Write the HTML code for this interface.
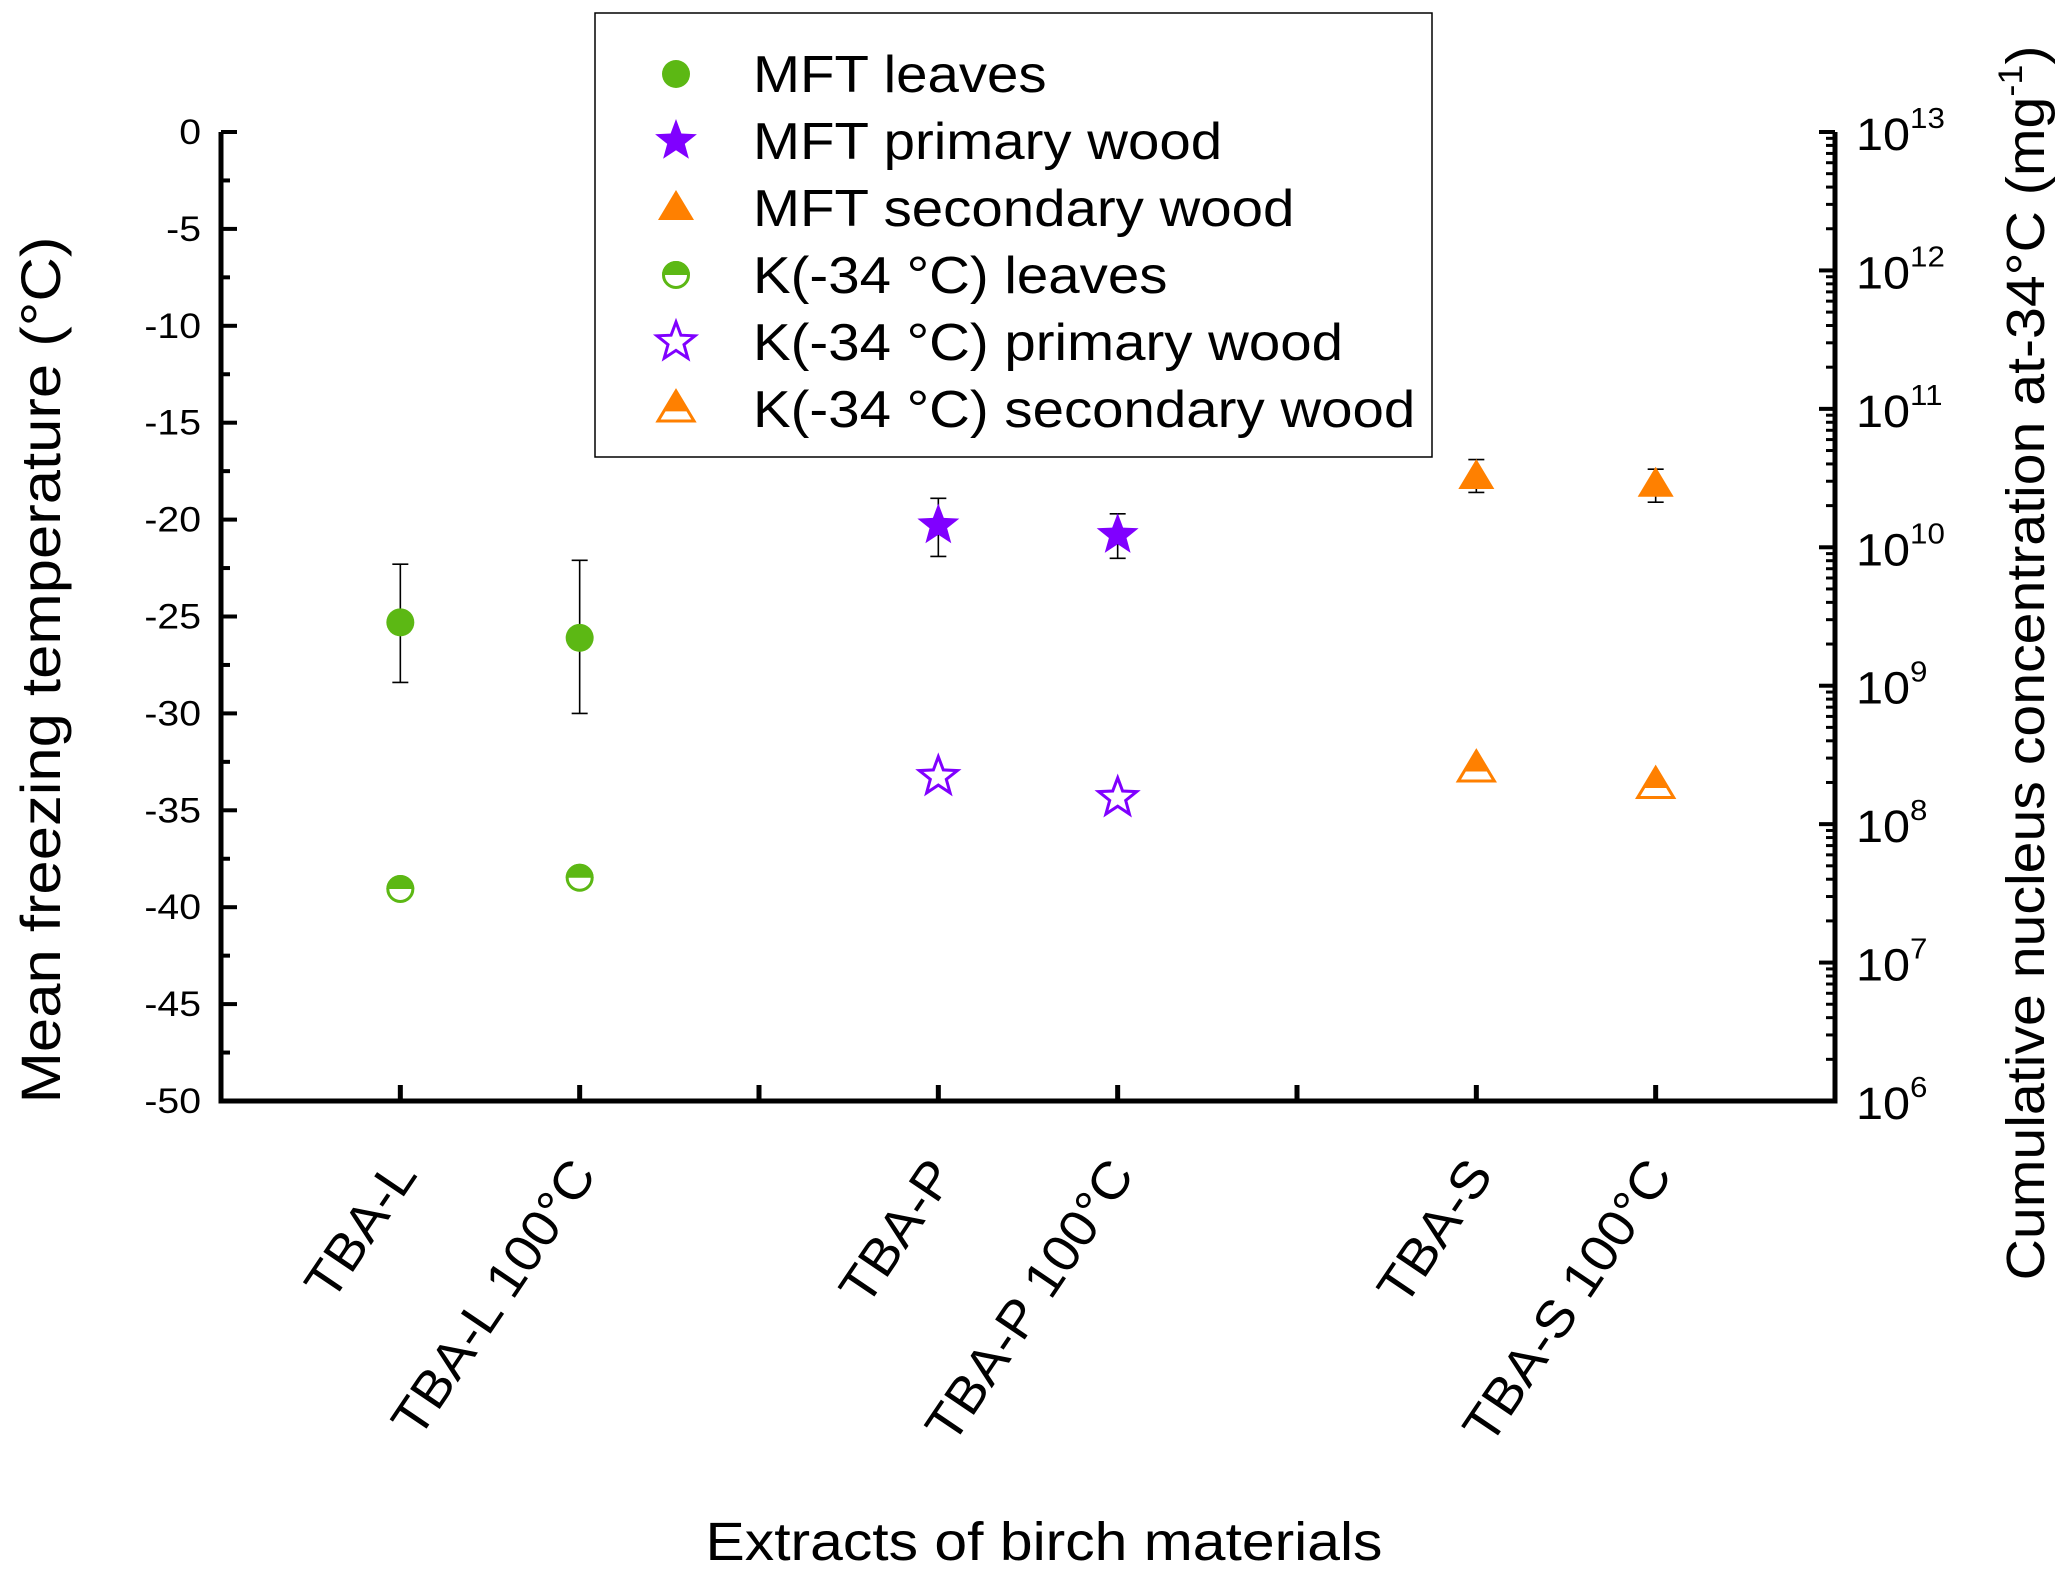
<!DOCTYPE html>
<html><head><meta charset="utf-8"><style>
html,body{margin:0;padding:0;background:#fff;}
svg{display:block;font-family:"Liberation Sans",Arial,sans-serif;}
</style></head><body>
<svg id="chart" width="2067" height="1577" viewBox="0 0 2067 1577" xmlns="http://www.w3.org/2000/svg"></svg>
<script>
const categories = ["TBA-L","TBA-L 100°C","TBA-P","TBA-P 100°C","TBA-S","TBA-S 100°C"];
const catPos = [1,2,4,5,7,8];
const groups = ["leaves","leaves","primary","primary","secondary","secondary"];
const mftValues = [-25.3,-26.1,-20.3,-20.8,-17.8,-18.2];
const mftErrHigh = [-22.3,-22.1,-18.9,-19.7,-16.9,-17.4];
const mftErrLow = [-28.4,-30.0,-21.9,-22.0,-18.6,-19.1];
const kValues = [3.4e7,4.1e7,2.2e8,1.55e8,2.5e8,1.9e8];
const leftTicks = [0,-5,-10,-15,-20,-25,-30,-35,-40,-45,-50];
const rightExps = [6,7,8,9,10,11,12,13];

const L=221,R=1835,T=132,B=1101;
const svg=document.getElementById('chart');
const NS='http://www.w3.org/2000/svg';
function xS(k){return L+(R-L)*k/9;}
function yS(v){return T+(B-T)*(0-v)/50;}
function yLog(v){return B-(B-T)*(Math.log10(v)-6)/7;}
function mk(tag,attrs,parent){const e=document.createElementNS(NS,tag);for(const k in attrs)e.setAttribute(k,attrs[k]);(parent||svg).appendChild(e);return e;}
const colors={leaves:'#5cb814',primary:'#8000ff',secondary:'#ff8000'};

let ax=mk('path',{d:`M${L},${T} L${L},${B} L${R},${B} L${R},${T}`,fill:'none',stroke:'#000','stroke-width':5});


for(let v=0;v>=-50;v-=2.5){
  const major=(v%5===0);
  const t=mk('line',{x1:L,x2:L+(major?16:9),y1:yS(v),y2:yS(v),stroke:'#000','stroke-width':4});
  
  
}
leftTicks.forEach(v=>{
  const t=mk('text',{x:0,y:0,'text-anchor':'end','font-size':35,transform:`translate(201,${yS(v)+12}) scale(1.12,1)`});
  t.textContent=String(v);
  
  
});
for(let e=6;e<=13;e++){
  const t=mk('line',{x1:R,x2:R-16,y1:yLog(Math.pow(10,e)),y2:yLog(Math.pow(10,e)),stroke:'#000','stroke-width':4});
  
  
  if(e<13)for(let m=2;m<=9;m++){
    const mt=mk('line',{x1:R,x2:R-9,y1:yLog(m*Math.pow(10,e)),y2:yLog(m*Math.pow(10,e)),stroke:'#000','stroke-width':3});
    
    
  }
}
rightExps.forEach(e=>{
  const t=mk('text',{x:0,y:0,'font-size':45,transform:`translate(1856,${yLog(Math.pow(10,e))+18}) scale(1.08,1)`});
  t.textContent='10';
  const s=mk('tspan',{dy:-22,'font-size':29},t);
  s.textContent=String(e);
  
  
});
for(let k=1;k<=8;k++){
  const t=mk('line',{x1:xS(k),x2:xS(k),y1:B,y2:B-16,stroke:'#000','stroke-width':5});
  
  
}
categories.forEach((c,i)=>{
  const x=xS(catPos[i])+18,y=1175;
  const t=mk('text',{x:0,y:0,'text-anchor':'end','font-size':52,transform:`translate(${x},${y}) rotate(-56) scale(1.05,1)`});
  t.textContent=c;
  
  
});
let tt=mk('text',{x:0,y:0,'text-anchor':'middle','font-size':56,transform:'translate(60,670) rotate(-90) scale(1.1,1)'});
tt.textContent='Mean freezing temperature  (°C)';


tt=mk('text',{x:0,y:0,'text-anchor':'middle','font-size':54,transform:'translate(2044,663) rotate(-90) scale(1.06,1)'});
tt.textContent='Cumulative nucleus concentration at-34°C (mg';
const sup=mk('tspan',{dy:-22,'font-size':34},tt);sup.textContent='-1';
const cl=mk('tspan',{dy:22},tt);cl.textContent=')';


tt=mk('text',{x:0,y:0,'text-anchor':'middle','font-size':54,transform:'translate(1044,1560) scale(1.09,1)'});
tt.textContent='Extracts of birch materials';



function starPts(cx,cy,r){let p=[];for(let i=0;i<10;i++){const a=-Math.PI/2+i*Math.PI/5;const rr=i%2?r*0.42:r;p.push((cx+rr*Math.cos(a)).toFixed(1)+','+(cy+rr*Math.sin(a)).toFixed(1));}return p.join(' ');}
function marker(g,cx,cy,half,parent){
  const c=colors[g];
  if(g==='leaves'){
    const r=14;
    if(!half){return mk('circle',{cx,cy,r,fill:c},parent);}
    const gg=mk('g',{},parent);
    mk('path',{d:`M${cx-r},${cy} A${r},${r} 0 0 1 ${cx+r},${cy} Z`,fill:c},gg);
    mk('circle',{cx,cy,r:r-1.5,fill:'none',stroke:c,'stroke-width':3},gg);
    return gg;
  }
  if(g==='primary'){
    if(!half)return mk('polygon',{points:starPts(cx,cy,22),fill:c},parent);
    return mk('polygon',{points:starPts(cx,cy,20),fill:'#fff',stroke:c,'stroke-width':3},parent);
  }
  const h=30,w=36;
  const top=cy-h*0.6,bot=cy+h*0.4;
  const pts=`${cx},${top} ${cx+w/2},${bot} ${cx-w/2},${bot}`;
  if(!half)return mk('polygon',{points:pts,fill:c},parent);
  const gg=mk('g',{},parent);
  mk('polygon',{points:pts,fill:'#fff',stroke:c,'stroke-width':3},gg);
  const mid=cy+h*0.08, f=(mid-top)/h;
  mk('polygon',{points:`${cx},${top} ${cx+w/2*f},${mid} ${cx-w/2*f},${mid}`,fill:c},gg);
  return gg;
}

categories.forEach((c,i)=>{
  const x=xS(catPos[i]);
  const eb=mk('path',{d:`M${x},${yS(mftErrHigh[i])} L${x},${yS(mftErrLow[i])} M${x-8},${yS(mftErrHigh[i])} L${x+8},${yS(mftErrHigh[i])} M${x-8},${yS(mftErrLow[i])} L${x+8},${yS(mftErrLow[i])}`,stroke:'#000','stroke-width':1.6,fill:'none'});
  
  
  const m=marker(groups[i],x,yS(mftValues[i]),false);
  
  
  const k=marker(groups[i],x,yLog(kValues[i]),true);
  
  
});

const lg=mk('g',{});


mk('rect',{x:595,y:13,width:837,height:444,fill:'#fff',stroke:'#000','stroke-width':1.5},lg);
const legLabels=['MFT leaves','MFT primary wood','MFT secondary wood','K(-34 °C) leaves','K(-34 °C) primary wood','K(-34 °C) secondary wood'];
const legGroups=['leaves','primary','secondary','leaves','primary','secondary'];
legLabels.forEach((s,i)=>{
  const y=74+i*67;
  const e=mk('g',{},lg);
  
  
  marker(legGroups[i],676,y,i>=3,e);
  const t=mk('text',{x:0,y:0,'font-size':52,transform:`translate(753,${y+18}) scale(1.085,1)`},e);
  t.textContent=s;
});
</script>
</body></html>
